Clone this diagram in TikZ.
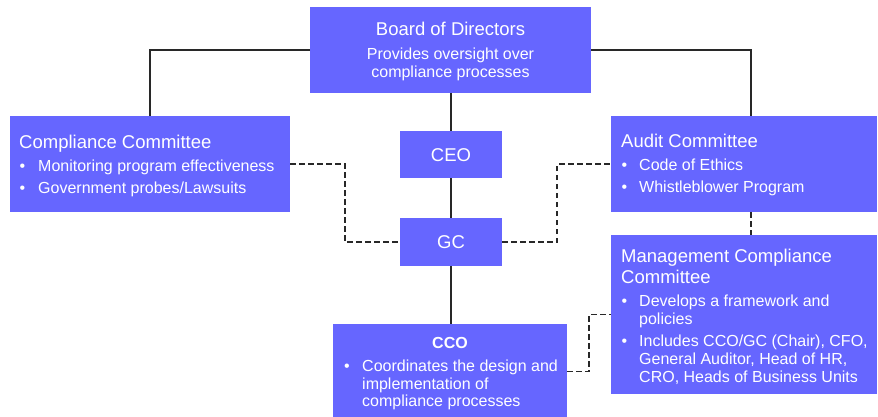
\documentclass[tikz,border=0pt]{standalone}
\usepackage{fontspec}
\setmainfont{Liberation Sans}
\definecolor{boxblue}{RGB}{102,102,255}
\definecolor{linegray}{RGB}{40,40,40}
\begin{document}
\begin{tikzpicture}[x=1pt,y=-1pt,
  box/.style={fill=boxblue,draw=none,inner sep=0pt,outer sep=0pt,anchor=north west},
  big/.style={text=white,font=\fontsize{18.5}{22}\selectfont,inner sep=0pt,anchor=base west},
  bigc/.style={big,anchor=base},
  small/.style={text=white,font=\fontsize{16}{19}\selectfont,inner sep=0pt,anchor=base west},
  smallc/.style={small,anchor=base},
  solidlink/.style={draw=linegray,line width=1.2pt},
  dashlink/.style={draw=linegray,line width=1.2pt,dash pattern=on 5.5pt off 3.5pt}]
\useasboundingbox (0,0) rectangle (878,417);

% boxes
\node[box,minimum width=281pt,minimum height=86pt] (board) at (310,7) {};
\node[box,minimum width=280pt,minimum height=96pt] (comp) at (10,116) {};
\node[box,minimum width=266pt,minimum height=96pt] (audit) at (611,116) {};
\node[box,minimum width=102pt,minimum height=47pt] (ceo) at (400,131) {};
\node[box,minimum width=102pt,minimum height=48pt] (gc) at (400,218) {};
\node[box,minimum width=234pt,minimum height=95pt] (cco) at (333,324) {};
\node[box,minimum width=266pt,minimum height=159pt] (mcc) at (611,235) {};

% helper columns for the connectors
\coordinate (colA) at (751,0);
\coordinate (colL) at (345,0);
\coordinate (colR) at (557,0);
\coordinate (colC) at (589,0);

% solid reporting lines
\draw[solidlink] (board.west) -| (comp.north);
\draw[solidlink] (board.east) -| (colA |- audit.north);
\draw[solidlink] (ceo.north |- board.south) -- (ceo.north);
\draw[solidlink] (ceo.south) -- (gc.north);
\draw[solidlink] (gc.south) -- (gc.south |- cco.north);

% dashed links
\draw[dashlink] (comp.east) -| (colL |- gc.west) -- (gc.west);
\draw[dashlink] (gc.east) -| (colR |- audit.west) -- (audit.west);
\draw[dashlink] (colA |- audit.south) -- (colA |- mcc.north);
\draw[dashlink] (cco.east) -| (colC |- mcc.west) -- (mcc.west);

% Board of Directors
\node[bigc] (boardT) at (450.5,36) {Board of Directors};
\node[smallc] (boardL1) at (450.5,59.3) {Provides oversight over};
\node[smallc] (boardL2) at (450.5,77.3) {compliance processes};

% Compliance Committee
\node[big] (compT) at (19,148.3) {Compliance Committee};
\node[small] (compB1) at (19.5,171.5) {•};
\node[small] (compL1) at (38,171.5) {Monitoring program effectiveness};
\node[small] (compB2) at (19.5,193) {•};
\node[small] (compL2) at (38,193) {Government probes/Lawsuits};

% Audit Committee
\node[big] (audT) at (621,147.7) {Audit Committee};
\node[small] (audB1) at (621.5,171) {•};
\node[small] (audL1) at (639,171) {Code of Ethics};
\node[small] (audB2) at (621.5,192.7) {•};
\node[small] (audL2) at (639,192.7) {Whistleblower Program};

% CEO and GC
\node[bigc] (ceoT) at (451,161.5) {CEO};
\node[bigc] (gcT) at (451,248.5) {GC};

% CCO
\node[smallc,font=\fontsize{16}{19}\selectfont\bfseries] (ccoT) at (450,348.3) {CCO};
\node[small] (ccoB1) at (344,371.7) {•};
\node[small] (ccoL1) at (362,371.7) {Coordinates the design and};
\node[small] (ccoL2) at (362,389.2) {implementation of};
\node[small] (ccoL3) at (362,406.7) {compliance processes};

% Management Compliance Committee
\node[big] (mccT1) at (621,262.3) {Management Compliance};
\node[big] (mccT2) at (621,283.3) {Committee};
\node[small] (mccB1) at (621.5,306.7) {•};
\node[small] (mccL1) at (639,306.7) {Develops a framework and};
\node[small] (mccL2) at (639,324.2) {policies};
\node[small] (mccB2) at (621.5,346.7) {•};
\node[small] (mccL3) at (639,346.7) {Includes CCO/GC (Chair), CFO,};
\node[small] (mccL4) at (639,364.5) {General Auditor, Head of HR,};
\node[small] (mccL5) at (639,382.3) {CRO, Heads of Business Units};
\end{tikzpicture}
\end{document}
